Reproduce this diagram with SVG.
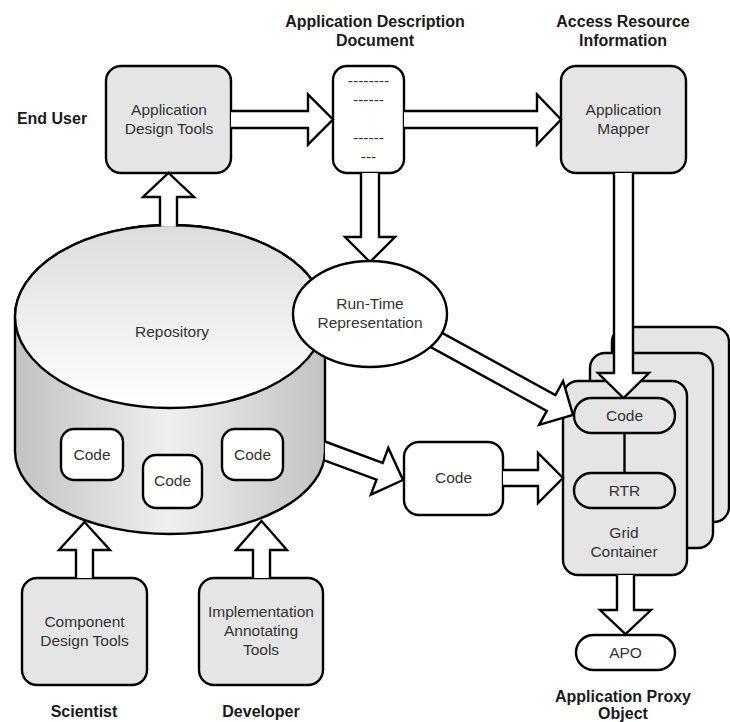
<svg xmlns="http://www.w3.org/2000/svg" width="730" height="722" viewBox="0 0 730 722">
<defs>
<linearGradient id="side" x1="0" y1="0" x2="1" y2="0">
<stop offset="0" stop-color="#c2c2c2"/>
<stop offset="0.5" stop-color="#efefef"/>
<stop offset="1" stop-color="#c2c2c2"/>
</linearGradient>
<linearGradient id="top" x1="0" y1="0" x2="0" y2="1">
<stop offset="0" stop-color="#dcdcdc"/>
<stop offset="1" stop-color="#ffffff"/>
</linearGradient>
</defs>
<style>
.box{fill:#e5e5e5;stroke:#000;stroke-width:2.4}
.wbox{fill:#fff;stroke:#000;stroke-width:2.4}
.arr{fill:#fff;stroke:#000;stroke-width:2.4;stroke-linejoin:miter}
.line{stroke:#000;stroke-width:2.4;fill:none}
.t{font-family:"Liberation Sans",Arial,sans-serif;font-size:15.5px;fill:#333;text-anchor:middle}
.b{font-family:"Liberation Sans",Arial,sans-serif;font-size:16px;font-weight:bold;fill:#1a1a1a;text-anchor:middle}
</style>
<rect width="730" height="722" fill="#fff"/>

<g id="labels">
<text class="b" x="375" y="27">Application Description</text>
<text class="b" x="375" y="46">Document</text>
<text class="b" x="623" y="27">Access Resource</text>
<text class="b" x="623" y="46">Information</text>
<text class="b" x="52" y="124">End User</text>
<text class="b" x="84" y="717">Scientist</text>
<text class="b" x="261" y="717">Developer</text>
<text class="b" x="623" y="702">Application Proxy</text>
<text class="b" x="623" y="719">Object</text>
</g>

<g id="repository">
<path d="M15,316.5 A155,91.5 0 0 1 325,316.5 L325,451 A155,83 0 0 1 15,451 Z" fill="url(#side)" stroke="#000" stroke-width="2.4"/>
<ellipse cx="170" cy="316.5" rx="155" ry="91.5" fill="url(#top)" stroke="#000" stroke-width="2.4"/>
<text class="t" x="172" y="337">Repository</text>
</g>
<g id="repo-code1"><rect class="wbox" x="61" y="429" width="62" height="51" rx="13"/><text class="t" x="92" y="460">Code</text></g>
<g id="repo-code2"><rect class="wbox" x="143" y="455" width="59" height="53" rx="13"/><text class="t" x="172.5" y="486">Code</text></g>
<g id="repo-code3"><rect class="wbox" x="222" y="429" width="61" height="51" rx="13"/><text class="t" x="252.5" y="460">Code</text></g>

<g id="app-design-tools"><rect class="box" x="106" y="66" width="125" height="107" rx="15"/><text class="t" x="169" y="115">Application</text><text class="t" x="169" y="134">Design Tools</text></g>
<g id="app-description-doc"><rect class="wbox" x="333" y="66" width="71" height="107" rx="14"/>
<text class="t" x="368.5" y="85.5">--------</text><text class="t" x="368.5" y="104.5">------</text><text class="t" x="368.5" y="142.5">------</text><text class="t" x="368.5" y="161.5">---</text></g>
<g id="app-mapper"><rect class="box" x="561" y="66" width="125" height="107" rx="15"/><text class="t" x="623.5" y="115">Application</text><text class="t" x="623.5" y="134">Mapper</text></g>
<g id="component-design-tools"><rect class="box" x="22" y="578" width="125" height="107" rx="15"/><text class="t" x="84.5" y="627">Component</text><text class="t" x="84.5" y="646">Design Tools</text></g>
<g id="impl-annotating-tools"><rect class="box" x="199" y="578" width="124" height="107" rx="15"/><text class="t" x="261" y="617">Implementation</text><text class="t" x="261" y="636">Annotating</text><text class="t" x="261" y="655">Tools</text></g>
<g id="code-middle"><rect class="wbox" x="404" y="442" width="99" height="73" rx="15"/><text class="t" x="453.5" y="483">Code</text></g>

<g id="grid-container">
<rect class="box" x="612" y="327" width="117" height="195" rx="15"/>
<rect class="box" x="590" y="353" width="123" height="195" rx="15"/>
<rect class="box" x="563" y="381" width="124" height="194" rx="15"/>
<text class="t" x="624" y="538">Grid</text>
<text class="t" x="624" y="557">Container</text>
</g>
<g id="apo"><rect class="wbox" x="576" y="635" width="99" height="35" rx="17.5"/><text class="t" x="625.5" y="658">APO</text></g>

<g id="connectors">
<path class="arr" d="M231,111 L308,111 L308,94.5 L333,119.5 L308,144.5 L308,128 L231,128"/>
<path class="arr" d="M404,111 L537,111 L537,94.5 L561,119.5 L537,144.5 L537,128 L404,128"/>
<path class="arr" d="M361,173 L361,237 L345,237 L370,262 L395,237 L379,237 L379,173"/>
<path class="arr" d="M614,173 L614,373 L598,373 L623.5,398 L649,373 L633,373 L633,173"/>
<path class="arr" d="M160,226.5 L160,197 L143,197 L168.5,173 L194,197 L177,197 L177,226.5"/>
<path class="arr" d="M76,578 L76,550 L59,550 L84.5,522 L110,550 L93,550 L93,578"/>
<path class="arr" d="M253,578 L253,550 L236,550 L261.5,521 L287,550 L270,550 L270,578"/>
<path class="arr" d="M325,441.5 L382.7,462.9 L388.3,447.9 L403,480 L370.9,494.7 L376.5,479.7 L325,460.6"/>
<path class="arr" d="M424.3,323.1 L555.4,395.1 L563.1,381.1 L573,415 L539.1,424.9 L546.8,410.9 L415.7,338.9"/>
<path class="arr" d="M503,470 L538,470 L538,453 L563,478 L538,503 L538,486 L503,486"/>
<path class="arr" d="M617,575 L617,610 L600,610 L625.5,634 L651,610 L634,610 L634,575"/>
<line class="line" x1="624.5" y1="433" x2="624.5" y2="473"/>
</g>

<g id="grid-code"><rect class="box" x="574" y="398" width="101" height="35" rx="17.5"/><text class="t" x="624.5" y="421">Code</text></g>
<g id="grid-rtr"><rect class="box" x="574" y="473" width="101" height="35" rx="17.5"/><text class="t" x="624.5" y="496">RTR</text></g>

<g id="run-time-representation"><ellipse class="wbox" cx="370" cy="314" rx="77" ry="53"/><text class="t" x="370" y="309">Run-Time</text><text class="t" x="370" y="328">Representation</text></g>
</svg>
